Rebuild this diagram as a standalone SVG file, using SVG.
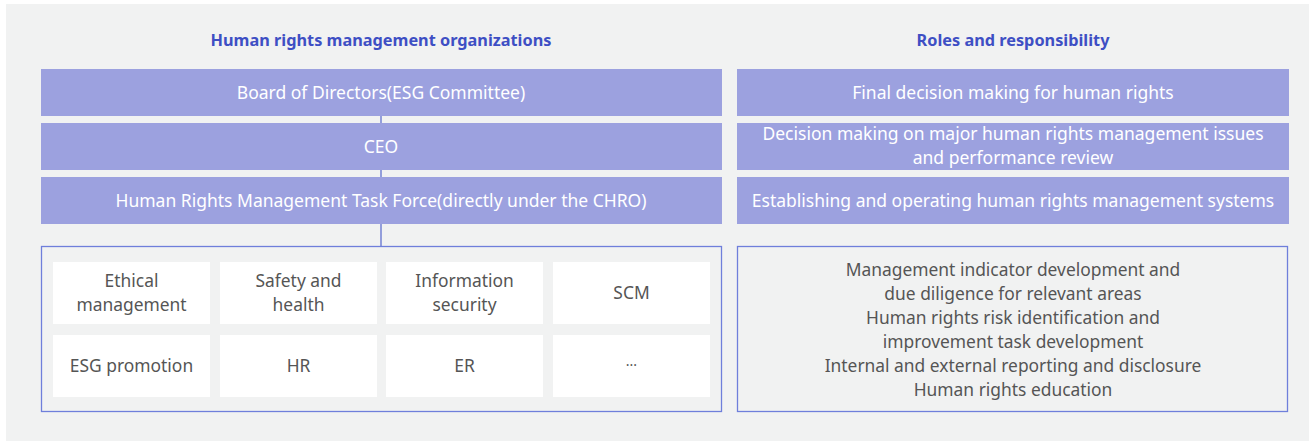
<svg xmlns="http://www.w3.org/2000/svg" width="1309" height="441" viewBox="0 0 1309 441">
<style>
.bar{fill:#9ca1df}
.bt{font-family:"Noto Sans","Open Sans",sans-serif;font-size:17.5px;fill:#ffffff;text-anchor:middle}
.title{font-family:"Noto Sans","Open Sans",sans-serif;font-size:16.3px;font-weight:bold;fill:#3e4fc4;text-anchor:middle}
.frame{fill:none;stroke:#6f7fdb;stroke-width:1.3}
.cell{fill:#ffffff}
.ct{font-family:"Noto Sans","Open Sans",sans-serif;font-size:17.4px;fill:#555555;text-anchor:middle}
.conn{stroke:#5566cc;stroke-width:1.2}
</style>
<rect x="0" y="0" width="1309" height="441" fill="#ffffff"/>
<rect x="6" y="4" width="1303" height="437" fill="#f1f2f2"/>
<text class="title" x="381" y="46">Human rights management organizations</text>
<text class="title" x="1013" y="46">Roles and responsibility</text>
<g id="connectors">
<line class="conn" x1="381" y1="116" x2="381" y2="246"/>
</g>
<g id="board"><rect class="bar" x="41" y="69" width="681" height="47"/><text class="bt" x="381" y="98.5">Board of Directors(ESG Committee)</text></g>
<g id="ceo"><rect class="bar" x="41" y="123" width="681" height="47"/><text class="bt" x="381" y="152.5">CEO</text></g>
<g id="taskforce"><rect class="bar" x="41" y="177" width="681" height="47"/><text class="bt" x="381" y="206.5">Human Rights Management Task Force(directly under the CHRO)</text></g>
<g id="role1"><rect class="bar" x="737" y="69" width="552" height="47"/><text class="bt" x="1013" y="98.5">Final decision making for human rights</text></g>
<g id="role2"><rect class="bar" x="737" y="123" width="552" height="47"/><text class="bt" x="1013" y="140">Decision making on major human rights management issues</text><text class="bt" x="1013" y="164">and performance review</text></g>
<g id="role3"><rect class="bar" x="737" y="177" width="552" height="47"/><text class="bt" x="1013" y="206.5">Establishing and operating human rights management systems</text></g>
<g id="departments">
<rect class="frame" x="41.5" y="246.5" width="680" height="165"/>
<g id="ethical"><rect class="cell" x="53" y="262" width="157" height="62"/><text class="ct" x="131.5" y="287">Ethical</text><text class="ct" x="131.5" y="311">management</text></g>
<g id="safety"><rect class="cell" x="220" y="262" width="157" height="62"/><text class="ct" x="298.5" y="287">Safety and</text><text class="ct" x="298.5" y="311">health</text></g>
<g id="infosec"><rect class="cell" x="386" y="262" width="157" height="62"/><text class="ct" x="464.5" y="287">Information</text><text class="ct" x="464.5" y="311">security</text></g>
<g id="scm"><rect class="cell" x="553" y="262" width="157" height="62"/><text class="ct" x="631.5" y="299">SCM</text></g>
<g id="esg"><rect class="cell" x="53" y="335" width="157" height="62"/><text class="ct" x="131.5" y="372">ESG promotion</text></g>
<g id="hr"><rect class="cell" x="220" y="335" width="157" height="62"/><text class="ct" x="298.5" y="372">HR</text></g>
<g id="er"><rect class="cell" x="386" y="335" width="157" height="62"/><text class="ct" x="464.5" y="372">ER</text></g>
<g id="etc"><rect class="cell" x="553" y="335" width="157" height="62"/><text class="ct" x="631.5" y="370" style="font-size:14px">···</text></g>
</g>
<g id="tasks">
<rect class="frame" x="737.5" y="246.5" width="550" height="165"/>
<text class="ct" x="1013" y="276">Management indicator development and</text>
<text class="ct" x="1013" y="300">due diligence for relevant areas</text>
<text class="ct" x="1013" y="324">Human rights risk identification and</text>
<text class="ct" x="1013" y="348">improvement task development</text>
<text class="ct" x="1013" y="372">Internal and external reporting and disclosure</text>
<text class="ct" x="1013" y="396">Human rights education</text>
</g>
</svg>
